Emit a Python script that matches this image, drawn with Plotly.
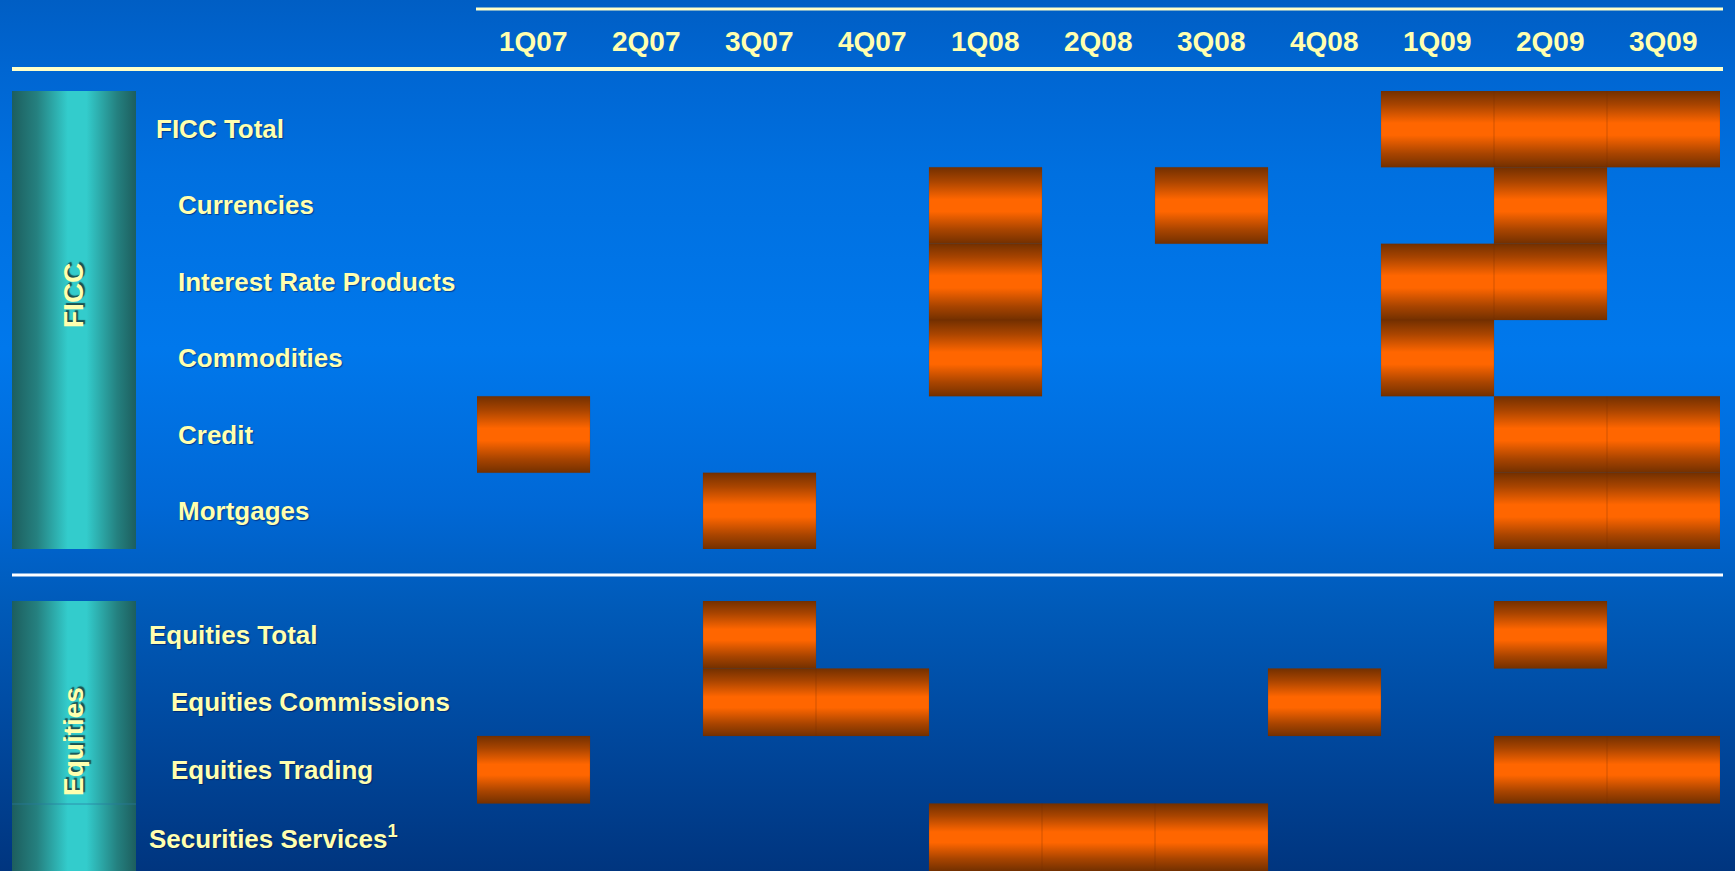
import plotly.graph_objects as go

# ---------------- data ----------------
quarters = ["1Q07", "2Q07", "3Q07", "4Q07", "1Q08", "2Q08", "3Q08", "4Q08", "1Q09", "2Q09", "3Q09"]

ficc_rows = ["FICC Total", "Currencies", "Interest Rate Products", "Commodities", "Credit", "Mortgages"]
ficc_indent = [0, 1, 1, 1, 1, 1]
ficc_flags = [
    [0, 0, 0, 0, 0, 0, 0, 0, 1, 1, 1],
    [0, 0, 0, 0, 1, 0, 1, 0, 0, 1, 0],
    [0, 0, 0, 0, 1, 0, 0, 0, 1, 1, 0],
    [0, 0, 0, 0, 1, 0, 0, 0, 1, 0, 0],
    [1, 0, 0, 0, 0, 0, 0, 0, 0, 1, 1],
    [0, 0, 1, 0, 0, 0, 0, 0, 0, 1, 1],
]

eq_rows = ["Equities Total", "Equities Commissions", "Equities Trading", "Securities Services<sup>1</sup>"]
eq_indent = [0, 1, 1, 0]
eq_flags = [
    [0, 0, 1, 0, 0, 0, 0, 0, 0, 1, 0],
    [0, 0, 1, 1, 0, 0, 0, 1, 0, 0, 0],
    [1, 0, 0, 0, 0, 0, 0, 0, 0, 1, 1],
    [0, 0, 0, 0, 1, 1, 1, 0, 0, 0, 0],
]

groups = ["FICC", "Equities"]

# ---------------- layout helpers ----------------
W, H = 1735, 871
def fx(p):
    return p / W
def fy(p):
    return 1 - p / H

TXT = "#FFFFAF"
FONT = "Liberation Sans, Arial, sans-serif"
x_dom = [fx(477), fx(1720)]
ficc_dom = [fy(549), fy(91)]
eq_dom = [0.0, fy(601)]

cell_scale = [[0, "#733000"], [0.18, "#a84400"], [0.42, "#ff6600"], [0.58, "#ff6600"],
              [0.82, "#a84400"], [1, "#733000"]]
cyl_scale = [[0, "#1d5e5e"], [0.2, "#25807f"], [0.45, "#33cccc"], [0.6, "#33cccc"],
             [0.85, "#24807f"], [1, "#1d5e5e"]]

fig = go.Figure()

# background gradient (primary axes cover the whole page)
fig.add_trace(go.Scatter(
    x=[0, 1, 1, 0, 0], y=[0, 0, 1, 1, 0], mode="lines", fill="toself",
    line=dict(width=0), hoverinfo="skip", showlegend=False,
    fillgradient=dict(type="vertical", colorscale=[
        [0, "#00357f"], [0.15, "#00479c"], [0.3, "#005ab8"], [0.42, "#0068d6"],
        [0.6, "#0078ec"], [0.8, "#0070e0"], [0.92, "#0066d2"], [1, "#005ec4"]]),
    xaxis="x", yaxis="y"))

# teal group cylinders
for dom, lbl in zip([ficc_dom, eq_dom], groups):
    fig.add_trace(go.Scatter(
        x=[fx(12), fx(136), fx(136), fx(12), fx(12)],
        y=[dom[0], dom[0], dom[1], dom[1], dom[0]], mode="lines", fill="toself",
        line=dict(width=0), hoverinfo="skip", showlegend=False,
        fillgradient=dict(type="horizontal", colorscale=cyl_scale),
        xaxis="x", yaxis="y"))

# cells
def add_cells(rows, flags, xa, ya):
    for i, (name, row) in enumerate(zip(rows, flags)):
        xs, ys = [], []
        for j, f in enumerate(row):
            if f:
                xs += [j - 0.5, j + 0.5, j + 0.5, j - 0.5, j - 0.5, None]
                ys += [i - 0.5, i - 0.5, i + 0.5, i + 0.5, i - 0.5, None]
        if xs:
            fig.add_trace(go.Scatter(
                x=xs, y=ys, mode="lines", fill="toself",
                line=dict(width=0.5, color="rgba(120,50,0,0.35)"),
                fillgradient=dict(type="vertical", colorscale=cell_scale),
                hoverinfo="skip", showlegend=False, name=name,
                xaxis=xa, yaxis=ya))

add_cells(ficc_rows, ficc_flags, "x2", "y2")
add_cells(eq_rows, eq_flags, "x3", "y3")

hidden = dict(visible=False, showgrid=False, zeroline=False, fixedrange=True)
fig.update_layout(
    width=W, height=H, margin=dict(l=0, r=0, t=0, b=0),
    paper_bgcolor="#0068d6", plot_bgcolor="rgba(0,0,0,0)", showlegend=False,
    xaxis=dict(domain=[0, 1], range=[0, 1], **hidden),
    yaxis=dict(domain=[0, 1], range=[0, 1], **hidden),
    xaxis2=dict(domain=x_dom, range=[-0.5, len(quarters) - 0.5], anchor="y2", **hidden),
    yaxis2=dict(domain=ficc_dom, range=[len(ficc_rows) - 0.5, -0.5], anchor="x2", **hidden),
    xaxis3=dict(domain=x_dom, range=[-0.5, len(quarters) - 0.5], anchor="y3", **hidden),
    yaxis3=dict(domain=eq_dom, range=[len(eq_rows) - 0.5, -0.5], anchor="x3", **hidden),
)

ann = []
# quarter headers
for j, q in enumerate(quarters):
    ann.append(dict(x=j, y=fy(42), xref="x2", yref="paper", text=f"<b>{q}</b>", showarrow=False,
                    font=dict(family=FONT, size=28, color=TXT), xanchor="center", yanchor="middle"))
# row labels
for rows, ind, ya, base in [(ficc_rows, ficc_indent, "y2", 154), (eq_rows, eq_indent, "y3", 147)]:
    for i, (r, k) in enumerate(zip(rows, ind)):
        ann.append(dict(x=fx(base + 22 * k), y=i, xref="paper", yref=ya, text=f"<b>{r}</b>",
                        showarrow=False,
                        font=dict(family=FONT, size=26, color=TXT, shadow="1px 1px 1px rgba(0,0,60,0.45)"),
                        xanchor="left", yanchor="middle"))
# group labels (rotated)
for lbl, ypx in zip(groups, [296, 742]):
    ann.append(dict(x=fx(73), y=fy(ypx), xref="paper", yref="paper", text=f"<b>{lbl}</b>",
                    textangle=-90, showarrow=False,
                    font=dict(family=FONT, size=28, color=TXT, shadow="2px 2px 1px rgba(20,50,50,0.8)"),
                    xanchor="center", yanchor="middle"))
fig.update_layout(annotations=ann)

# rules
fig.add_shape(type="line", xref="paper", yref="paper", x0=fx(476), x1=fx(1723),
              y0=fy(9), y1=fy(9), line=dict(color="#FFFFC8", width=3))
fig.add_shape(type="line", xref="paper", yref="paper", x0=fx(12), x1=fx(1723),
              y0=fy(69), y1=fy(69), line=dict(color="#FFFFC8", width=4))
fig.add_shape(type="line", xref="paper", yref="paper", x0=fx(12), x1=fx(1723),
              y0=fy(575), y1=fy(575), line=dict(color="#FFFFFF", width=3))
# faint separator inside Equities cylinder
fig.add_shape(type="line", xref="paper", yref="paper", x0=fx(12), x1=fx(136),
              y0=fy(804), y1=fy(804), line=dict(color="rgba(40,120,160,0.7)", width=1))

fig.write_html("out.html")
